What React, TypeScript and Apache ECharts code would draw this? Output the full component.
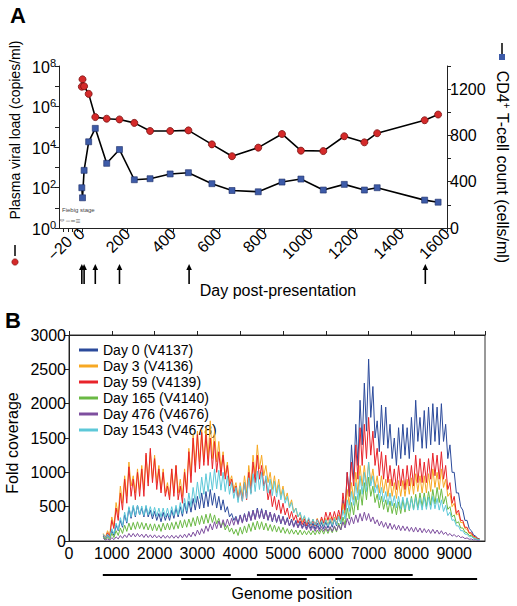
import React, { useEffect, useRef } from "react";
import * as echarts from "echarts";

const FONT = "'Liberation Sans', Arial, Helvetica, sans-serif";

// ---------- Panel A ----------
const sampleDays = [0, 3, 10, 30, 59, 109, 165, 230, 299, 387, 467, 570, 658, 773, 877, 960, 1058, 1150, 1238, 1294, 1502, 1561];
const viralLoad = [9.5e6, 2.2e7, 1.0e7, 4.2e6, 3.0e5, 2.5e5, 2.3e5, 1.55e5, 6.2e4, 6.2e4, 6.6e4, 1.35e4, 3.5e3, 9.3e3, 4.4e4, 6.6e3, 6.3e3, 3.4e4, 1.7e4, 4.8e4, 2.1e5, 4.0e5];
const cd4Count = [348, 261, 498, 745, 861, 559, 678, 417, 426, 467, 478, 383, 324, 313, 397, 423, 328, 377, 328, 348, 241, 223];
const arrowDays = [0, 10, 59, 165, 470, 1505];
const dayTickValues = [-80, -60, -40, -20, 0, 200, 400, 600, 800, 1000, 1200, 1400, 1600];
const dayLabelValues = [-20, 0, 200, 400, 600, 800, 1000, 1200, 1400, 1600];
const logTickValues = [1, 10, 100, 1e3, 1e4, 1e5, 1e6, 1e7, 1e8];
const logLabelValues = [1, 100, 1e4, 1e6, 1e8];

// ---------- Panel B ----------
const seriesNames = ["Day 0 (V4137)", "Day 3 (V4136)", "Day 59 (V4139)", "Day 165 (V4140)", "Day 476 (V4676)", "Day 1543 (V4678)"];
const seriesColors = ["#2b4a9b", "#f7a823", "#e8232a", "#6ab944", "#7e4f9f", "#5dc8d8"];
// coverage is read every 100 nt from 800 to 9600: band tops at each position, band bottoms 50 nt later
const genomeStart = 800;
const genomeStep = 100;

const day0Hi = [
  70, 80, 150, 230, 300, 380, 480, 500, 520, 480,
  500, 450, 430, 400, 420, 400, 450, 480, 500, 550,
  580, 620, 650, 700, 720, 750, 700, 650, 600, 500,
  400, 360, 380, 400, 430, 450, 480, 470, 450, 420,
  400, 380, 360, 340, 320, 300, 290, 280, 270, 260,
  260, 270, 280, 300, 320, 380, 600, 1000, 1400, 1700,
  2050, 2300, 2650, 2250, 1750, 1980, 1950, 1700, 1500, 1650,
  1700, 1650, 1800, 2050, 1800, 1900, 1950, 2000, 1950, 2000,
  1700, 1400, 1000, 700, 450, 300, 150, 70, 25,
];
const day0Lo = [
  30, 40, 80, 150, 200, 260, 330, 350, 380, 350,
  350, 320, 300, 280, 300, 300, 330, 350, 360, 400,
  420, 450, 470, 480, 500, 520, 480, 450, 420, 350,
  300, 260, 270, 280, 300, 320, 330, 320, 300, 280,
  270, 250, 240, 220, 210, 200, 190, 180, 180, 170,
  170, 180, 190, 200, 220, 250, 400, 650, 900, 1100,
  1400, 1600, 1800, 1500, 1300, 1400, 1350, 1200, 1100, 1200,
  1250, 1200, 1300, 1450, 1350, 1350, 1400, 1450, 1400, 1450,
  1200, 1000, 700, 500, 300, 180, 90, 40, 10,
];
const day3Hi = [
  110, 150, 350, 560, 800, 950, 1150, 950, 1050, 1100,
  1250, 1300, 1250, 1100, 1050, 850, 1050, 1100, 900, 1050,
  1350, 1550, 1600, 1620, 1650, 1750, 1600, 1450, 1300, 1150,
  950, 850, 850, 950, 1100, 1250, 1400, 1250, 1100, 1000,
  950, 900, 800, 700, 600, 480, 400, 350, 320, 320,
  330, 320, 330, 340, 350, 380, 550, 750, 850, 1000,
  1100, 1100, 1150, 1050, 950, 950, 900, 900, 850, 880,
  880, 900, 920, 980, 950, 950, 980, 1050, 1000, 1050,
  900, 700, 550, 400, 270, 170, 100, 50, 25,
];
const day3Lo = [
  50, 80, 220, 380, 550, 650, 800, 700, 750, 750,
  850, 900, 850, 750, 700, 650, 700, 700, 650, 750,
  950, 1100, 1150, 1150, 1200, 1200, 1150, 1050, 950, 850,
  750, 650, 650, 700, 800, 950, 1050, 950, 850, 750,
  700, 650, 600, 500, 420, 350, 280, 250, 230, 220,
  230, 220, 230, 240, 250, 270, 380, 520, 600, 700,
  800, 800, 850, 780, 700, 700, 650, 650, 620, 650,
  650, 680, 680, 720, 700, 700, 720, 780, 750, 780,
  650, 500, 380, 270, 180, 110, 60, 25, 10,
];
const day59Hi = [
  90, 120, 300, 480, 700, 900, 1080, 900, 1000, 1050,
  1280, 1350, 1200, 1050, 1000, 800, 1050, 1100, 800, 1000,
  1300, 1500, 1550, 1580, 1550, 1500, 1450, 1300, 1250, 1100,
  900, 800, 750, 850, 1000, 1150, 1250, 1100, 900, 750,
  650, 600, 550, 480, 430, 380, 340, 320, 320, 300,
  320, 350, 420, 420, 430, 450, 700, 1000, 1150, 1400,
  1650, 1700, 1800, 1600, 1350, 1300, 1250, 1100, 1050, 1100,
  1050, 1100, 1100, 1250, 1200, 1150, 1200, 1280, 1250, 1300,
  1100, 850, 650, 450, 300, 200, 120, 60, 25,
];
const day59Lo = [
  40, 60, 180, 300, 450, 550, 650, 600, 650, 650,
  800, 850, 750, 700, 650, 600, 650, 600, 550, 700,
  850, 1000, 1050, 1100, 1100, 1050, 1000, 950, 900, 800,
  700, 600, 580, 600, 700, 850, 900, 800, 600, 500,
  450, 400, 380, 320, 300, 260, 240, 220, 230, 220,
  230, 260, 300, 300, 310, 320, 450, 650, 800, 900,
  1100, 1200, 1250, 1100, 950, 900, 850, 800, 750, 800,
  750, 800, 800, 850, 850, 850, 900, 950, 900, 900,
  750, 550, 400, 300, 200, 120, 70, 30, 10,
];
const day165Hi = [
  60, 60, 110, 150, 190, 230, 260, 270, 280, 270,
  260, 250, 250, 240, 260, 260, 270, 280, 300, 310,
  320, 340, 360, 370, 390, 400, 380, 330, 280, 230,
  190, 170, 200, 220, 250, 270, 290, 280, 260, 240,
  230, 210, 200, 180, 170, 160, 160, 150, 150, 150,
  160, 170, 180, 190, 210, 260, 350, 480, 560, 650,
  750, 850, 930, 800, 680, 650, 600, 580, 550, 570,
  600, 620, 650, 680, 700, 700, 720, 750, 780, 760,
  650, 500, 380, 280, 190, 120, 80, 40, 20,
];
const day165Lo = [
  20, 20, 50, 80, 110, 140, 160, 170, 180, 170,
  160, 150, 150, 140, 160, 160, 170, 180, 190, 200,
  210, 220, 240, 250, 260, 270, 250, 200, 160, 130,
  100, 80, 100, 120, 140, 160, 170, 160, 150, 140,
  130, 120, 110, 100, 100, 90, 90, 90, 90, 90,
  100, 100, 110, 120, 130, 160, 230, 320, 380, 450,
  520, 600, 650, 560, 480, 460, 420, 400, 380, 400,
  420, 440, 460, 480, 500, 500, 520, 540, 560, 540,
  460, 350, 260, 190, 130, 80, 45, 20, 8,
];
const day476Hi = [
  40, 30, 50, 60, 80, 90, 110, 110, 110, 100,
  100, 90, 90, 80, 85, 80, 85, 80, 90, 100,
  110, 130, 160, 180, 220, 250, 280, 290, 310, 320,
  330, 340, 370, 390, 420, 440, 460, 450, 440, 420,
  400, 370, 350, 320, 300, 280, 260, 240, 230, 220,
  220, 210, 210, 210, 220, 230, 280, 330, 350, 380,
  400, 420, 400, 350, 310, 290, 270, 260, 240, 230,
  220, 210, 200, 200, 190, 180, 170, 170, 160, 150,
  130, 110, 95, 80, 60, 45, 30, 20, 12,
];
const day476Lo = [
  10, 10, 20, 30, 40, 50, 60, 60, 60, 50,
  50, 45, 45, 40, 40, 40, 40, 40, 45, 50,
  60, 70, 90, 110, 140, 160, 180, 190, 210, 220,
  230, 240, 260, 280, 300, 310, 330, 320, 310, 290,
  280, 260, 240, 220, 200, 190, 180, 160, 150, 140,
  140, 140, 140, 140, 150, 160, 190, 230, 250, 270,
  290, 300, 280, 250, 220, 200, 180, 170, 160, 150,
  150, 140, 130, 130, 120, 120, 110, 110, 100, 95,
  80, 70, 60, 50, 35, 25, 15, 8, 5,
];
const day1543Hi = [
  100, 100, 180, 260, 340, 420, 500, 520, 520, 510,
  520, 500, 490, 480, 480, 480, 500, 520, 560, 620,
  700, 780, 860, 930, 980, 1000, 1050, 1030, 1000, 950,
  850, 780, 800, 850, 920, 980, 1020, 1000, 950, 900,
  870, 820, 750, 650, 560, 480, 420, 370, 340, 320,
  310, 300, 310, 320, 330, 360, 450, 600, 720, 850,
  950, 1000, 1150, 950, 820, 780, 720, 700, 660, 650,
  640, 630, 620, 630, 620, 640, 640, 650, 620, 600,
  520, 420, 310, 220, 150, 100, 65, 35, 18,
];
const day1543Lo = [
  40, 50, 100, 160, 220, 280, 350, 370, 380, 370,
  380, 370, 360, 350, 350, 350, 370, 380, 400, 440,
  500, 560, 620, 680, 720, 740, 760, 740, 720, 680,
  620, 560, 580, 620, 680, 720, 750, 730, 700, 660,
  640, 600, 550, 480, 410, 350, 300, 260, 240, 230,
  220, 220, 220, 230, 240, 260, 320, 430, 520, 600,
  680, 720, 800, 700, 600, 570, 530, 510, 480, 470,
  460, 450, 450, 450, 450, 460, 460, 470, 450, 430,
  370, 300, 220, 150, 100, 60, 40, 20, 8,
];
const coverageHi = [day0Hi, day3Hi, day59Hi, day165Hi, day476Hi, day1543Hi];
const coverageLo = [day0Lo, day3Lo, day59Lo, day165Lo, day476Lo, day1543Lo];

// amplicons: [start, end, row]
const amplicons = [
  [790, 3780, 0],
  [4390, 8030, 0],
  [2620, 5555, 1],
  [6220, 9535, 1],
];

export default function App() {
  const ref = useRef<HTMLDivElement>(null);

  useEffect(() => {
    if (!ref.current) return;
    const chart = echarts.init(ref.current, null, { renderer: "svg" });

    const axisColor = "#222";
    const lineStyle = { color: axisColor, width: 1 };

    const covSeries = coverageHi.map((hi, i) => {
      const lo = coverageLo[i];
      const data: number[][] = [];
      hi.forEach((v, k) => {
        const pos = genomeStart + k * genomeStep;
        data.push([pos, v]);
        if (k < hi.length - 1) data.push([pos + genomeStep / 2, lo[k]]);
      });
      return {
        name: seriesNames[i],
        type: "line",
        xAxisIndex: 1,
        yAxisIndex: 2,
        showSymbol: false,
        symbol: "none",
        color: seriesColors[i],
        lineStyle: { width: 1, color: seriesColors[i] },
        z: 3 + i,
        data,
      };
    });

    const option: any = {
      animation: false,
      textStyle: { fontFamily: FONT },
      grid: [
        { left: 59, top: 66, width: 388, height: 162 },
        { left: 69, top: 335, width: 416, height: 206, show: true, borderColor: "#333", borderWidth: 1 },
      ],
      xAxis: [
        {
          gridIndex: 0,
          type: "value",
          min: -100,
          max: 1600,
          splitLine: { show: false },
          axisLine: { onZero: false, lineStyle },
          axisTick: { customValues: dayTickValues, length: 4, lineStyle },
          axisLabel: {
            customValues: dayLabelValues,
            rotate: 45,
            fontSize: 16,
            color: "#000",
            margin: 3,
            formatter: (v: number) => (v < 0 ? "{n|\u2212" + Math.abs(v) + "}" : String(v)),
            rich: { n: { fontSize: 16, padding: [0, 11, 0, 0] } },
          },
        },
        {
          gridIndex: 1,
          type: "value",
          min: 0,
          max: 9719,
          interval: 1000,
          splitLine: { show: false },
          axisLine: { onZero: false, lineStyle },
          axisTick: { show: false },
          axisLabel: { fontSize: 16, color: "#000", margin: 4, showMaxLabel: false, formatter: (v: number) => String(v) },
        },
        {
          gridIndex: 1,
          type: "value",
          position: "top",
          min: 0,
          max: 9719,
          interval: 1000,
          splitLine: { show: false },
          axisLine: { onZero: false, lineStyle },
          axisTick: { show: true, length: 4, lineStyle },
          axisLabel: { show: false },
        },
      ],
      yAxis: [
        {
          gridIndex: 0,
          type: "log",
          logBase: 10,
          min: 1,
          max: 1e8,
          splitLine: { show: false },
          axisLine: { onZero: false, lineStyle },
          axisTick: { customValues: logTickValues, length: 4, lineStyle },
          axisLabel: {
            customValues: logLabelValues,
            color: "#000",
            margin: 3,
            formatter: (v: number) => "{b|10}{e|" + Math.round(Math.log10(v)) + "}",
            rich: {
              b: { fontSize: 16, lineHeight: 18, verticalAlign: "bottom" },
              e: { fontSize: 11, lineHeight: 18, verticalAlign: "top", padding: [0, 0, 6, 0] },
            },
          },
        },
        {
          gridIndex: 0,
          type: "value",
          position: "right",
          min: 0,
          max: 1400,
          interval: 200,
          splitLine: { show: false },
          axisLine: { show: true, onZero: false, lineStyle },
          axisTick: { length: 4, lineStyle },
          axisLabel: {
            fontSize: 16,
            color: "#000",
            margin: 3,
            formatter: (v: number) => (v % 400 === 0 ? String(v) : ""),
          },
        },
        {
          gridIndex: 1,
          type: "value",
          min: 0,
          max: 3000,
          interval: 500,
          splitLine: { show: false },
          axisLine: { onZero: false, lineStyle },
          axisTick: { length: 4, lineStyle },
          axisLabel: { fontSize: 16, color: "#000", margin: 3, formatter: (v: number) => String(v) },
        },
      ],
      legend: {
        data: seriesNames,
        orient: "vertical",
        left: 79,
        top: 342,
        padding: 0,
        itemWidth: 19,
        itemHeight: 3,
        itemGap: 0,
        icon: "rect",
        textStyle: { fontSize: 14, lineHeight: 16, color: "#000", fontFamily: FONT },
      },
      series: [
        {
          name: "viral",
          type: "line",
          xAxisIndex: 0,
          yAxisIndex: 0,
          symbol: "circle",
          symbolSize: 7,
          itemStyle: { color: "#d42a2a", borderColor: "#7a1212", borderWidth: 0.8 },
          lineStyle: { color: "#000", width: 1.6 },
          z: 3,
          data: sampleDays.map((d, i) => [d, viralLoad[i]]),
        },
        {
          name: "cd4",
          type: "line",
          xAxisIndex: 0,
          yAxisIndex: 1,
          symbol: "rect",
          symbolSize: 6,
          itemStyle: { color: "#3d5ba8", borderColor: "#1c2d66", borderWidth: 0.6 },
          lineStyle: { color: "#000", width: 1.6 },
          z: 3,
          data: sampleDays.map((d, i) => [d, cd4Count[i]]),
        },
        {
          name: "arrows",
          type: "custom",
          xAxisIndex: 0,
          yAxisIndex: 0,
          silent: true,
          clip: false,
          data: arrowDays.map((d) => [d, 1]),
          renderItem: (params: any, api: any) => {
            const p = api.coord([api.value(0), 1]);
            const x = p[0];
            const yTop = 264;
            const yBot = 284;
            return {
              type: "group",
              children: [
                { type: "line", shape: { x1: x, y1: yTop + 4, x2: x, y2: yBot }, style: { stroke: "#000", lineWidth: 1.6 } },
                { type: "polygon", shape: { points: [[x - 2.8, yTop + 6], [x, yTop], [x + 2.8, yTop + 6]] }, style: { fill: "#000" } },
              ],
            };
          },
        },
        ...covSeries,
        {
          name: "amplicons",
          type: "custom",
          xAxisIndex: 1,
          yAxisIndex: 2,
          silent: true,
          clip: false,
          encode: { x: [0, 1], y: 2 },
          data: amplicons,
          renderItem: (params: any, api: any) => {
            const a = api.coord([api.value(0), 0]);
            const b = api.coord([api.value(1), 0]);
            const y = a[1] + 34 + api.value(2) * 4;
            return { type: "line", shape: { x1: a[0], y1: y, x2: b[0], y2: y }, style: { stroke: "#000", lineWidth: 2 } };
          },
        },
      ],
      graphic: [
        { type: "text", x: 10, y: 4, style: { text: "A", font: `bold 22px ${FONT}`, fill: "#000" } },
        { type: "text", x: 5, y: 309, style: { text: "B", font: `bold 22px ${FONT}`, fill: "#000" } },
        {
          type: "text",
          x: 15,
          y: 130,
          rotation: Math.PI / 2,
          style: { text: "Plasma viral load (copies/ml)", font: `14px ${FONT}`, fill: "#000", align: "center", verticalAlign: "middle" },
        },
        { type: "line", shape: { x1: 15, y1: 245, x2: 15, y2: 256 }, style: { stroke: "#000", lineWidth: 1.5 } },
        { type: "circle", shape: { cx: 15, cy: 262, r: 3.2 }, style: { fill: "#d42a2a", stroke: "#7a1212", lineWidth: 0.6 } },
        { type: "line", shape: { x1: 502, y1: 43, x2: 502, y2: 55 }, style: { stroke: "#000", lineWidth: 1.5 } },
        { type: "rect", shape: { x: 499, y: 54, width: 6, height: 6 }, style: { fill: "#3d5ba8" } },
        {
          type: "text",
          x: 502,
          y: 167,
          rotation: -Math.PI / 2,
          style: {
            text: "{a|CD4}{s|+}{a| T-cell count (cells/ml)}",
            rich: {
              a: { fontSize: 16, fontFamily: FONT, fill: "#000", lineHeight: 18 },
              s: { fontSize: 10, fontFamily: FONT, fill: "#000", lineHeight: 18, verticalAlign: "top", padding: [0, 0, 8, 0] },
            },
            align: "center",
            verticalAlign: "middle",
          },
        },
        { type: "text", x: 278, y: 290, style: { text: "Day post-presentation", font: `16px ${FONT}`, fill: "#000", align: "center", verticalAlign: "middle" } },
        { type: "text", x: 62, y: 210, style: { text: "Fiebig stage", font: `6px ${FONT}`, fill: "#444", verticalAlign: "middle" } },
        { type: "text", x: 62, y: 220, rotation: Math.PI / 2, style: { text: "0", font: `5px ${FONT}`, fill: "#444", align: "center", verticalAlign: "middle" } },
        { type: "text", x: 68, y: 221, rotation: Math.PI / 2, style: { text: "I", font: `5px ${FONT}`, fill: "#444", align: "center", verticalAlign: "middle" } },
        { type: "text", x: 73, y: 221, rotation: Math.PI / 2, style: { text: "II", font: `5px ${FONT}`, fill: "#444", align: "center", verticalAlign: "middle" } },
        { type: "text", x: 78, y: 221, rotation: Math.PI / 2, style: { text: "III", font: `5px ${FONT}`, fill: "#444", align: "center", verticalAlign: "middle" } },
        {
          type: "text",
          x: 12,
          y: 443,
          rotation: Math.PI / 2,
          style: { text: "Fold coverage", font: `16px ${FONT}`, fill: "#000", align: "center", verticalAlign: "middle" },
        },
        { type: "text", x: 292, y: 593, style: { text: "Genome position", font: `16px ${FONT}`, fill: "#000", align: "center", verticalAlign: "middle" } },
      ],
    };

    chart.setOption(option);
    return () => chart.dispose();
  }, []);

  return <div ref={ref} style={{ position: "fixed", left: 0, top: 0, width: 517, height: 606, background: "#fff" }} />;
}
